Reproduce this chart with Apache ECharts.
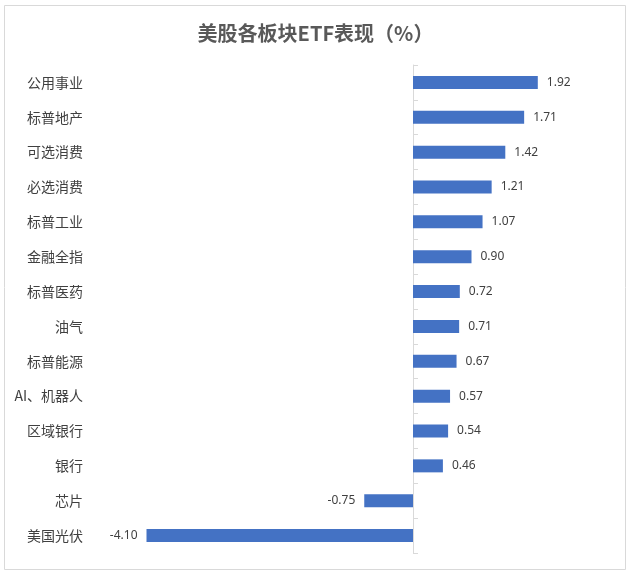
<!DOCTYPE html>
<html>
<head>
<meta charset="utf-8">
<script src="https://cdn.jsdelivr.net/npm/echarts@6/dist/echarts.min.js"></script>
<style>
  html, body { margin: 0; padding: 0; background: #fff; }
  #etf-bar-chart { width: 631px; height: 576px; }
</style>
</head>
<body>
<div id="etf-bar-chart"></div>
<script>
var sectors = ['公用事业', '标普地产', '可选消费', '必选消费', '标普工业', '金融全指', '标普医药',
  '油气', '标普能源', 'AI、机器人', '区域银行', '银行', '芯片', '美国光伏'];
var changes = [1.92, 1.71, 1.42, 1.21, 1.07, 0.90, 0.72, 0.71, 0.67, 0.57, 0.54, 0.46, -0.75, -4.10];
var axisMin = -5;
var axisMax = 3;

var etfDom = document.getElementById('etf-bar-chart');
var etfChart = echarts.init(etfDom);
var fontCJK = '"Noto Sans CJK SC", "Noto Sans", sans-serif';

// negative bars get their label on the left side
var barData = [];
for (var i = 0; i < changes.length; i++) {
  barData.push({
    value: changes[i],
    label: { position: changes[i] < 0 ? 'left' : 'right' },
  });
}

var etfOption = {
  animation: false,
  title: {
    text: '美股各板块ETF表现（%）',
    left: 'center',
    top: 18,
    textStyle: {
      fontFamily: fontCJK,
      fontSize: 20,
      fontWeight: 'bold',
      color: '#595959',
    },
  },
  graphic: [
    {
      type: 'rect',
      shape: { x: 4.5, y: 5.5, width: 621, height: 564 },
      style: { fill: 'none', stroke: '#d9d9d9', lineWidth: 1 },
      silent: true,
    },
  ],
  grid: {
    left: 88,
    right: 23,
    top: 65,
    bottom: 23,
  },
  xAxis: {
    type: 'value',
    min: axisMin,
    max: axisMax,
    show: false,
  },
  yAxis: [
    {
      type: 'category',
      data: sectors,
      inverse: true,
      position: 'left',
      axisLine: { show: false, onZero: false },
      axisTick: { show: false },
      axisLabel: {
        fontFamily: fontCJK,
        fontSize: 14,
        color: '#404040',
        margin: 5,
      },
    },
    {
      type: 'category',
      data: sectors,
      inverse: true,
      position: 'left',
      axisLine: { show: true, onZero: true, lineStyle: { color: '#d9d9d9', width: 1 } },
      axisTick: { show: true, inside: true, length: 5, lineStyle: { color: '#d9d9d9' } },
      axisLabel: { show: false },
    },
  ],
  series: [
    {
      type: 'bar',
      data: barData,
      barWidth: 13,
      itemStyle: { color: '#4472c4' },
      label: {
        show: true,
        distance: 9,
        fontFamily: '"Noto Sans", sans-serif',
        fontSize: 12,
        color: '#404040',
        formatter: function (p) {
          return p.value.toFixed(2);
        },
      },
    },
  ],
};

etfChart.setOption(etfOption);
</script>
</body>
</html>
